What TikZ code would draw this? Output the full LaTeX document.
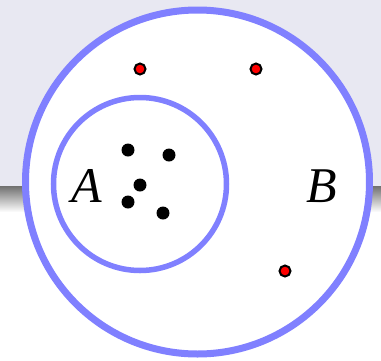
\documentclass[tikz,border=0pt]{standalone}
\usepackage{fontspec}
\setmainfont{Liberation Serif}
\usepackage{xcolor}
\usetikzlibrary{positioning}
\definecolor{setblue}{RGB}{128, 128, 255}
\definecolor{bglav}{RGB}{232, 232, 242}
\definecolor{bandgray}{RGB}{112, 112, 112}
\definecolor{ptred}{RGB}{255, 0, 0}

\begin{document}
\begin{tikzpicture}[x=1pt, y=-1pt,
    every node/.style={inner sep=0pt, outer sep=0pt},
    setcircle/.style={circle, draw=setblue, fill=white},
    inpoint/.style={circle, fill=black, minimum size=13pt},
    outpoint/.style={circle, fill=ptred, draw=black, line width=2pt, minimum size=11pt},
    setlabel/.style={font=\fontsize{50}{50}\selectfont\itshape}]
  \useasboundingbox (0,0) rectangle (381,360);
  % backdrop
  \fill[bglav] (0,0) rectangle (381,186);
  \shade[top color=bandgray, bottom color=white] (0,186) rectangle (381,212);

  \node[setcircle, line width=7pt, minimum size=344pt] (setB) at (197.5,182) {};
  \node[setcircle, line width=5.5pt, minimum size=173pt] (setA) at (140,184) {};

  \node[setlabel] (labA) at (87,186) {A};
  \node[setlabel] (labB) at (322,186) {B};

  \node[inpoint] (a1) at (128,150) {};
  \node[inpoint] (a2) at (169,155) {};
  \node[inpoint] (a3) at (140,185) {};
  \node[inpoint] (a4) at (128,202) {};
  \node[inpoint] (a5) at (163,213) {};

  \node[outpoint] (b1) at (140,69) {};
  \node[outpoint] (b2) at (256,69) {};
  \node[outpoint] (b3) at (285,271) {};
\end{tikzpicture}
\end{document}
